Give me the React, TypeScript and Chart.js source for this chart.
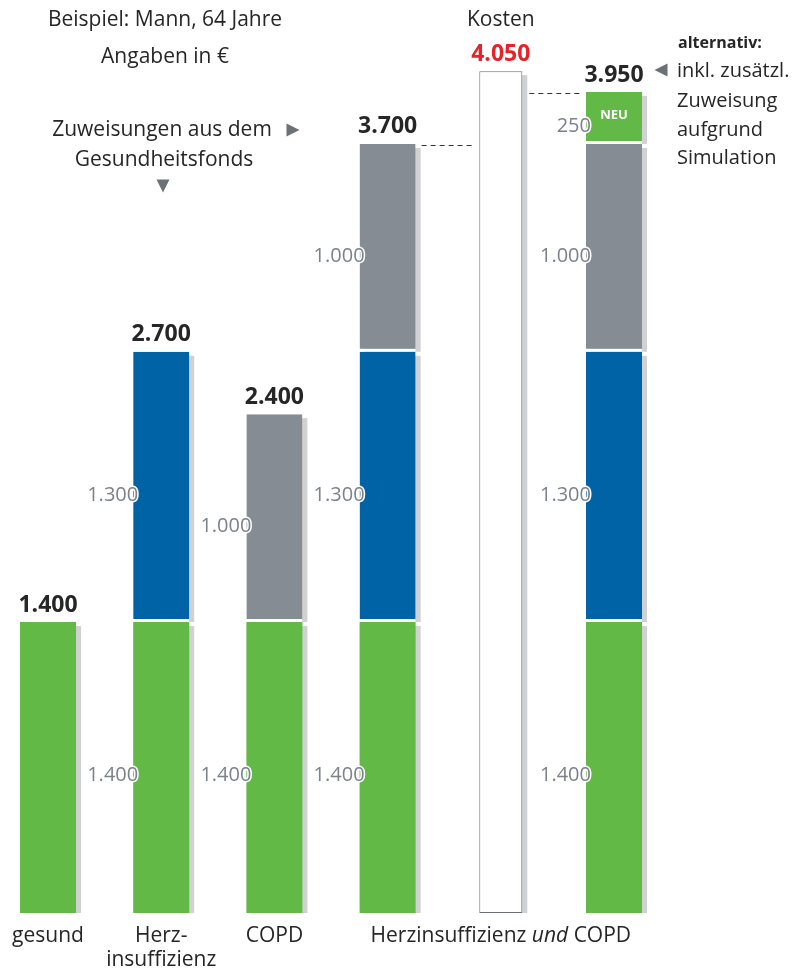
import React, { useEffect, useRef } from "react";
import { Chart, registerables } from "chart.js";

Chart.register(...registerables);

const FONT = '"Open Sans", "Noto Sans", sans-serif';

const categories = ["gesund", "Herzinsuffizienz", "COPD", "Herzinsuffizienz und COPD", "Kosten", "alternativ"];
const gesundValues = [1400, 1400, 1400, 1400, null, 1400];
const herzValues = [null, 1300, null, 1300, null, 1300];
const copdValues = [null, null, 1000, 1000, null, 1000];
const neuValues = [null, null, null, null, null, 250];
const kostenValues = [null, null, null, null, 4050, null];

const GREEN = "#62b946";
const BLUE = "#0063a6";
const GRAY = "#868c93";
const SHADOW = "#d0d1d3";
const LABEL_GRAY = "#7b828a";
const DARK = "#262626";
const RED = "#e52329";
const TRI = "#6b7177";

function fmt(v: number): string {
  return String(v).replace(/\B(?=(\d{3})+(?!\d))/g, ".");
}

function tri(ctx: CanvasRenderingContext2D, cx: number, cy: number, dir: string, s: number) {
  ctx.beginPath();
  if (dir === "right") {
    ctx.moveTo(cx - s / 2, cy - s / 2);
    ctx.lineTo(cx + s / 2, cy);
    ctx.lineTo(cx - s / 2, cy + s / 2);
  } else if (dir === "left") {
    ctx.moveTo(cx + s / 2, cy - s / 2);
    ctx.lineTo(cx - s / 2, cy);
    ctx.lineTo(cx + s / 2, cy + s / 2);
  } else {
    ctx.moveTo(cx - s / 2, cy - s / 2);
    ctx.lineTo(cx + s / 2, cy - s / 2);
    ctx.lineTo(cx, cy + s / 2);
  }
  ctx.closePath();
  ctx.fill();
}

const shadowPlugin = {
  id: "shadows",
  beforeDatasetsDraw(chart: any) {
    const ctx = chart.ctx;
    ctx.save();
    ctx.fillStyle = SHADOW;
    chart.data.datasets.forEach((ds: any, di: number) => {
      const meta = chart.getDatasetMeta(di);
      meta.data.forEach((el: any, i: number) => {
        if (ds.data[i] == null) return;
        const p = el.getProps(["x", "y", "base", "width"], true);
        const left = p.x - p.width / 2 + 5;
        const top = p.y + 4;
        ctx.fillRect(left, top, p.width, p.base - top);
      });
    });
    ctx.restore();
  },
};

const labelPlugin = {
  id: "labels",
  afterDatasetsDraw(chart: any) {
    const ctx = chart.ctx;
    const yScale = chart.scales.y;
    ctx.save();

    // segment labels (not on the single "gesund" bar)
    const segSets = [0, 1, 2, 3];
    segSets.forEach((di) => {
      const ds = chart.data.datasets[di];
      const meta = chart.getDatasetMeta(di);
      meta.data.forEach((el: any, i: number) => {
        const v = ds.data[i];
        if (v == null || i === 0) return;
        const p = el.getProps(["x", "y", "base", "width"], true);
        const cy = (p.y + p.base) / 2 + 8;
        const rx = p.x - p.width / 2 + 5;
        ctx.font = `20px ${FONT}`;
        ctx.textAlign = "right";
        ctx.textBaseline = "middle";
        ctx.lineJoin = "round";
        ctx.strokeStyle = "#ffffff";
        ctx.lineWidth = 3;
        ctx.strokeText(fmt(v), rx, cy);
        ctx.fillStyle = LABEL_GRAY;
        ctx.fillText(fmt(v), rx, cy);
        if (di === 3) {
          ctx.font = `bold 13px ${FONT}`;
          ctx.textAlign = "center";
          ctx.fillStyle = "#ffffff";
          ctx.fillText("NEU", p.x, p.y + 23);
        }
      });
    });

    // totals
    const metaRef = chart.getDatasetMeta(0);
    categories.forEach((_c, i) => {
      let total = 0;
      chart.data.datasets.forEach((ds: any) => {
        if (ds.data[i] != null) total += ds.data[i];
      });
      const el = chart.getDatasetMeta(i === 4 ? 4 : 0).data[i];
      const x = el.getProps(["x"], true).x;
      const ty = yScale.getPixelForValue(total);
      ctx.font = `bold 23px ${FONT}`;
      ctx.textAlign = "center";
      ctx.textBaseline = "middle";
      ctx.fillStyle = i === 4 ? RED : DARK;
      ctx.fillText(fmt(total), x, ty - 17);
    });

    // dashed connectors
    const e3 = chart.getDatasetMeta(2).data[3].getProps(["x", "y", "width"], true);
    const e4 = chart.getDatasetMeta(4).data[4].getProps(["x", "y", "width"], true);
    const e5 = chart.getDatasetMeta(3).data[5].getProps(["x", "y", "width"], true);
    ctx.strokeStyle = "#333333";
    ctx.lineWidth = 1;
    ctx.setLineDash([5, 4]);
    ctx.beginPath();
    ctx.moveTo(e3.x + e3.width / 2 + 6, Math.round(e3.y) + 1.5);
    ctx.lineTo(e4.x - e4.width / 2 - 6, Math.round(e3.y) + 1.5);
    ctx.moveTo(e4.x + e4.width / 2 + 7, Math.round(e5.y) + 1.5);
    ctx.lineTo(e5.x - e5.width / 2 - 4, Math.round(e5.y) + 1.5);
    ctx.stroke();
    ctx.setLineDash([]);

    // x labels
    const xs = metaRef.data.map((el: any) => el.getProps(["x"], true).x);
    const kx = chart.getDatasetMeta(4).data[4].getProps(["x"], true).x;
    const F = 21;
    ctx.fillStyle = DARK;
    ctx.textBaseline = "middle";
    ctx.textAlign = "center";
    ctx.font = `${F}px ${FONT}`;
    ctx.fillText("gesund", xs[0], 936);
    ctx.fillText("Herz-", xs[1], 936);
    ctx.fillText("insuffizienz", xs[1], 960);
    ctx.fillText("COPD", xs[2], 936);
    const p1 = "Herzinsuffizienz ";
    const p2 = "und";
    const p3 = " COPD";
    ctx.font = `${F}px ${FONT}`;
    const w1 = ctx.measureText(p1).width;
    const w3 = ctx.measureText(p3).width;
    ctx.font = `italic ${F}px ${FONT}`;
    const w2 = ctx.measureText(p2).width;
    const sx = kx - (w1 + w2 + w3) / 2;
    ctx.textAlign = "left";
    ctx.font = `${F}px ${FONT}`;
    ctx.fillText(p1, sx, 936);
    ctx.font = `italic ${F}px ${FONT}`;
    ctx.fillText(p2, sx + w1, 936);
    ctx.font = `${F}px ${FONT}`;
    ctx.fillText(p3, sx + w1 + w2, 936);

    // annotations
    ctx.textAlign = "center";
    ctx.fillStyle = DARK;
    ctx.font = `${F}px ${FONT}`;
    ctx.fillText("Beispiel: Mann, 64 Jahre", 165, 20);
    ctx.fillText("Angaben in €", 165, 57);
    ctx.fillText("Zuweisungen aus dem", 162, 130);
    ctx.fillText("Gesundheitsfonds", 164, 160);
    ctx.fillText("Kosten", kx, 20);
    ctx.textAlign = "left";
    ctx.font = `bold 16px ${FONT}`;
    ctx.fillText("alternativ:", 678, 43);
    ctx.font = `20px ${FONT}`;
    ctx.fillText("inkl. zusätzl.", 677, 71);
    ctx.fillText("Zuweisung", 677, 101);
    ctx.fillText("aufgrund", 677, 130);
    ctx.fillText("Simulation", 677, 158);

    ctx.fillStyle = TRI;
    tri(ctx, 293, 130, "right", 13);
    tri(ctx, 163, 186, "down", 13);
    tri(ctx, 661, 70, "left", 13);

    ctx.restore();
  },
};

export default function App() {
  const ref = useRef<HTMLCanvasElement | null>(null);
  useEffect(() => {
    if (!ref.current) return;
    const segBorder = { top: 0, left: 0, right: 0, bottom: 3 };
    const chart = new Chart(ref.current, {
      type: "bar",
      data: {
        labels: categories,
        datasets: [
          { label: "gesund", data: gesundValues, backgroundColor: GREEN, borderWidth: 0, barPercentage: 0.495, categoryPercentage: 1, clip: false },
          { label: "Herzinsuffizienz", data: herzValues, backgroundColor: BLUE, borderColor: "#ffffff", borderWidth: segBorder, borderSkipped: false, barPercentage: 0.495, categoryPercentage: 1, clip: false },
          { label: "COPD", data: copdValues, backgroundColor: GRAY, borderColor: "#ffffff", borderWidth: segBorder, borderSkipped: false, barPercentage: 0.495, categoryPercentage: 1, clip: false },
          { label: "NEU", data: neuValues, backgroundColor: GREEN, borderColor: "#ffffff", borderWidth: segBorder, borderSkipped: false, barPercentage: 0.495, categoryPercentage: 1, clip: false },
          { label: "Kosten", data: kostenValues, backgroundColor: "#ffffff", borderColor: "#6b7177", borderWidth: 1, borderSkipped: false, barPercentage: 0.38, categoryPercentage: 1, clip: false },
        ] as any,
      },
      options: {
        responsive: false,
        animation: false,
        layout: { padding: { top: 40, bottom: 59, left: 48, right: 182 } },
        plugins: { legend: { display: false }, tooltip: { enabled: false } },
        scales: {
          x: { type: "category", stacked: true, offset: false, display: false },
          y: { stacked: true, min: 0, max: 4200, display: false },
        },
      } as any,
      plugins: [shadowPlugin, labelPlugin],
    });
    return () => chart.destroy();
  }, []);
  return (
    <div style={{ position: "absolute", left: 0, top: 0, width: 796, height: 972, background: "#ffffff" }}>
      <canvas ref={ref} width={796} height={972} style={{ display: "block" }} />
    </div>
  );
}
